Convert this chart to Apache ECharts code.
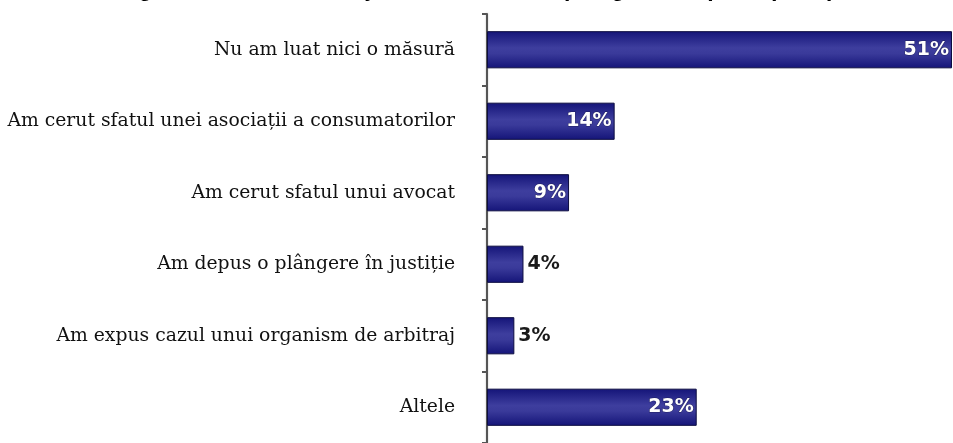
<!DOCTYPE html>
<html>
<head>
<meta charset="utf-8">
<script src="https://cdn.jsdelivr.net/npm/echarts@6/dist/echarts.min.js"></script>
<style>
  html, body { margin: 0; padding: 0; background: #fff; }
  #chart { width: 953px; height: 443px; }
</style>
</head>
<body>
<div id="chart"></div>
<script>
// Measures taken after the complaint, share of respondents (%)
const categories = [
  'Nu am luat nici o măsură',
  'Am cerut sfatul unei asociații a consumatorilor',
  'Am cerut sfatul unui avocat',
  'Am depus o plângere în justiție',
  'Am expus cazul unui organism de arbitraj',
  'Altele'
];
const values = [51, 14, 9, 4, 3, 23];
const titleText = 'Figura 11: Măsurile majore luate în urma plângerii adoptate (1000)';

// Small bars get their label outside in dark text, the rest inside in white
const insideThreshold = 5;

const chart = echarts.init(document.getElementById('chart'), null, { renderer: 'canvas' });

const barGradient = new echarts.graphic.LinearGradient(0, 0, 0, 1, [
  { offset: 0, color: '#141478' },
  { offset: 0.45, color: '#3e3e9e' },
  { offset: 0.6, color: '#3a3a9a' },
  { offset: 1, color: '#141478' }
]);

chart.setOption({
  animation: false,
  title: {
    text: titleText,
    left: 'center',
    top: -22,
    padding: 0,
    textStyle: { fontFamily: 'Arial, Liberation Sans', fontWeight: 'bold', fontSize: 23, color: '#000' }
  },
  grid: { left: 487, right: 1, top: 14, bottom: -9, containLabel: false },
  xAxis: {
    type: 'value',
    min: 0,
    max: 51,
    show: false
  },
  yAxis: {
    type: 'category',
    data: categories,
    inverse: true,
    axisLine: { show: true, lineStyle: { color: '#555', width: 2, shadowColor: 'rgba(0,0,0,0.25)', shadowBlur: 2 } },
    axisTick: { show: true, length: 5, lineStyle: { color: '#555', width: 2 } },
    axisLabel: {
      margin: 32,
      fontFamily: 'DejaVu Serif, serif',
      fontSize: 18.8,
      color: '#111'
    },
    splitLine: { show: false }
  },
  series: [{
    type: 'bar',
    barWidth: '52%',
    data: values.map(v => ({
      value: v,
      label: v > insideThreshold
        ? { position: 'insideRight', color: '#fff', distance: 3, textBorderColor: 'rgba(20,20,60,0.6)', textBorderWidth: 1 }
        : { position: 'right', color: '#1a1a1a', distance: 4 }
    })),
    itemStyle: { color: barGradient, borderColor: '#0c0c40', borderWidth: 1 },
    label: {
      show: true,
      formatter: '{c}%',
      fontFamily: 'DejaVu Sans, Verdana, sans-serif',
      fontWeight: 'bold',
      fontSize: 19
    }
  }]
});
</script>
</body>
</html>
